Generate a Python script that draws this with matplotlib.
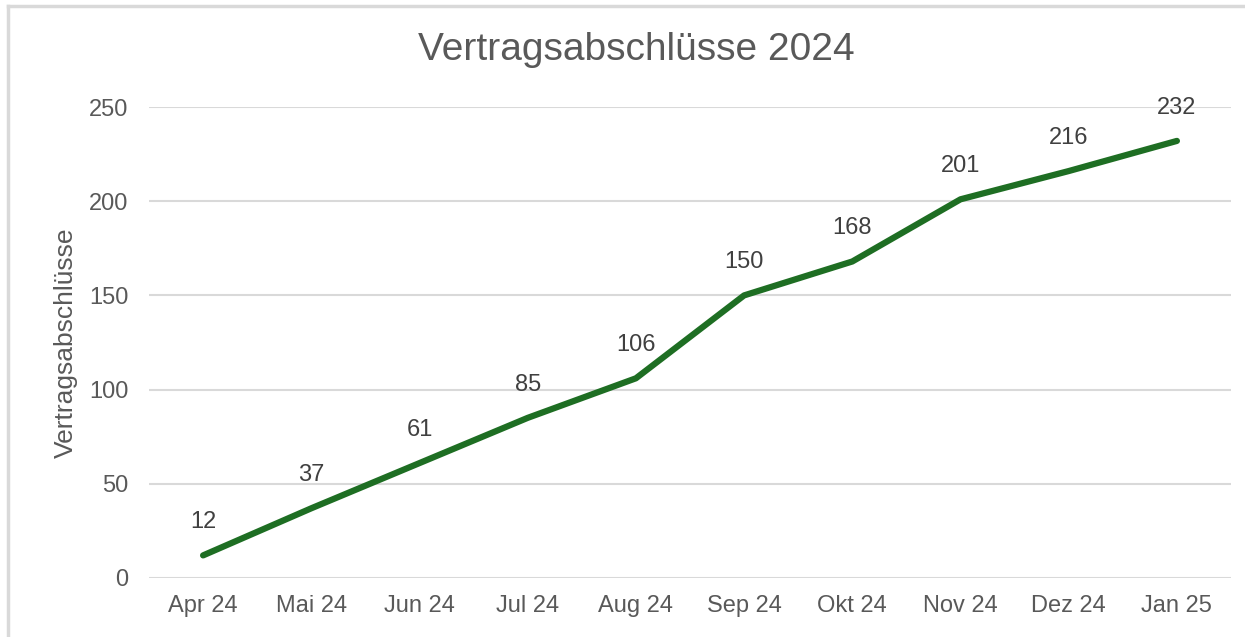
import matplotlib
matplotlib.use("Agg")
import matplotlib.pyplot as plt
from matplotlib.lines import Line2D

months = ["Apr 24", "Mai 24", "Jun 24", "Jul 24", "Aug 24", "Sep 24",
          "Okt 24", "Nov 24", "Dez 24", "Jan 25"]
values = [12, 37, 61, 85, 106, 150, 168, 201, 216, 232]
yticks = [0, 50, 100, 150, 200, 250]

plt.rcParams['font.family'] = ['Liberation Sans', 'DejaVu Sans']
txt = '#595959'

fig = plt.figure(figsize=(12.45, 6.37), dpi=100)
ax = fig.add_axes([149/1245, 1-578/637, (1231-149)/1245, (578-107)/637])

x = list(range(len(months)))
ax.plot(x, values, color='#1e6e23', lw=4.5, solid_capstyle='round', zorder=3)
for xi, v in zip(x, values):
    ax.annotate(str(v), (xi, v), xytext=(0, 24), textcoords='offset points',
                ha='center', va='center', fontsize=17, color='#404040')

ax.set_xlim(-0.5, len(months) - 0.5)
ax.set_ylim(0, 250)
ax.set_yticks(yticks)
ax.set_xticks(x)
ax.set_xticklabels(months)
ax.tick_params(axis='both', length=0, labelsize=17, labelcolor=txt)
ax.tick_params(axis='y', pad=15)
ax.tick_params(axis='x', pad=12)
ax.grid(axis='y', color='#d9d9d9', lw=1.5)
ax.set_axisbelow(True)
for s in ax.spines.values():
    s.set_visible(False)

ax.set_ylabel("Vertragsabschlüsse", fontsize=19, color=txt, labelpad=8)
fig.text(636/1245, 1-50/637, "Vertragsabschlüsse 2024", fontsize=28,
         color=txt, ha='center', va='center')

# outer border (top and left)
fig.add_artist(Line2D([8/1245, 1], [1-6/637, 1-6/637], color='#d9d9d9', lw=2.5,
                      transform=fig.transFigure))
fig.add_artist(Line2D([8/1245, 8/1245], [0, 1-6/637], color='#d9d9d9', lw=2.5,
                      transform=fig.transFigure))

fig.savefig("out.png", dpi=100)
